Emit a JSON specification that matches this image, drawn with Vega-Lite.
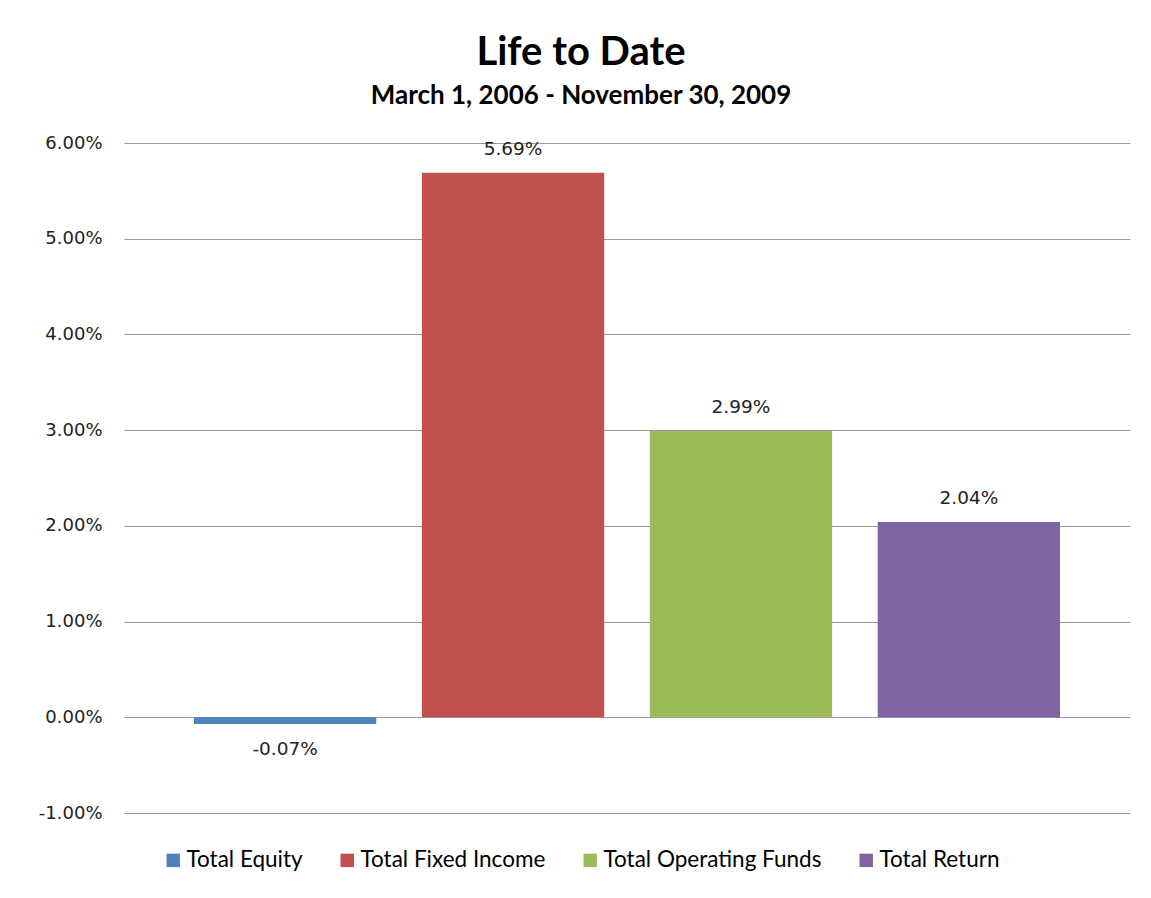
{
  "$schema": "https://vega.github.io/schema/vega-lite/v6.json",
  "autosize": {"type": "none"},
  "width": 1006,
  "height": 670,
  "padding": {"left": 124, "top": 143, "right": 21, "bottom": 85},
  "background": "white",
  "title": {
    "text": "Life to Date",
    "subtitle": "March 1, 2006 - November 30, 2009",
    "anchor": "middle",
    "frame": "group",
    "dx": -46,
    "offset": 25,
    "font": "Lato",
    "fontSize": 40,
    "fontWeight": "bold",
    "color": "#000000",
    "subtitleFont": "Lato",
    "subtitleFontSize": 26,
    "subtitleFontWeight": "bold",
    "subtitleColor": "#000000",
    "subtitlePadding": 10
  },
  "data": {
    "values": [
      {"series": "Total Equity", "value": -0.0007},
      {"series": "Total Fixed Income", "value": 0.0569},
      {"series": "Total Operating Funds", "value": 0.0299},
      {"series": "Total Return", "value": 0.0204}
    ]
  },
  "encoding": {
    "x": {
      "field": "series",
      "type": "nominal",
      "sort": null,
      "axis": null,
      "scale": {"paddingInner": 0.2, "paddingOuter": 0.307}
    },
    "y": {
      "field": "value",
      "type": "quantitative",
      "scale": {"domain": [-0.01, 0.06], "nice": false, "zero": false},
      "axis": {
        "title": null,
        "values": [-0.01, 0, 0.01, 0.02, 0.03, 0.04, 0.05, 0.06],
        "format": ".2%",
        "labelExpr": "replace(datum.label, '\u2212', '-')",
        "domain": false,
        "ticks": false,
        "labelPadding": 22,
        "labelFont": "DejaVu Sans",
        "labelFontSize": 18,
        "labelColor": "#222222",
        "grid": true,
        "gridColor": "#9a9a9a",
        "gridWidth": 1.2
      }
    }
  },
  "layer": [
    {
      "mark": {"type": "bar"},
      "encoding": {
        "color": {
          "field": "series",
          "type": "nominal",
          "sort": null,
          "scale": {
            "domain": ["Total Equity", "Total Fixed Income", "Total Operating Funds", "Total Return"],
            "range": ["#4F81BD", "#C0504D", "#9BBB59", "#8064A2"]
          },
          "legend": {
            "title": null,
            "orient": "none",
            "direction": "horizontal",
            "legendX": 38,
            "legendY": 706,
            "symbolType": "square",
            "symbolSize": 180,
            "symbolStrokeWidth": 0,
            "labelFont": "Lato",
            "labelFontSize": 22.5,
            "labelColor": "#000000",
            "labelOffset": 2,
            "columnPadding": 33,
            "labelLimit": 400
          }
        }
      }
    },
    {
      "transform": [{"filter": "datum.value >= 0"}],
      "mark": {
        "type": "text",
        "baseline": "bottom",
        "dy": -14,
        "font": "DejaVu Sans",
        "fontSize": 18.5,
        "color": "#222222",
        "text": {"expr": "replace(format(datum.value, '.2%'), '\u2212', '-')"}
      },
      "encoding": {}
    },
    {
      "transform": [{"filter": "datum.value < 0"}],
      "mark": {
        "type": "text",
        "baseline": "top",
        "dy": 16,
        "font": "DejaVu Sans",
        "fontSize": 18.5,
        "color": "#222222",
        "text": {"expr": "replace(format(datum.value, '.2%'), '\u2212', '-')"}
      },
      "encoding": {}
    }
  ],
  "config": {"view": {"stroke": null}}
}
